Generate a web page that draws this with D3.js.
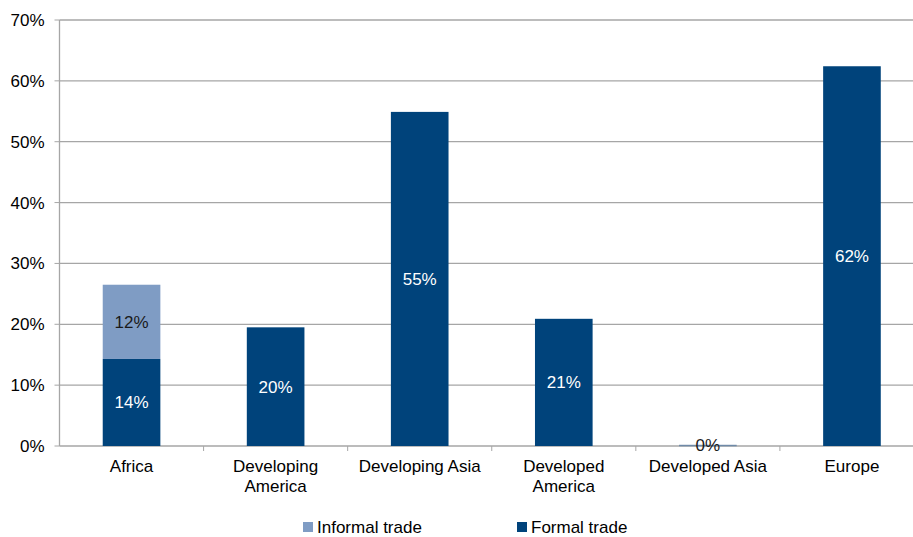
<!DOCTYPE html>
<meta charset="utf-8">
<script src="https://d3js.org/d3.v7.min.js"></script>
<style>
  body { margin: 0; background: #fff; }
  svg text { font-family: "Liberation Sans", Arial, sans-serif; font-size: 17px; }
</style>
<div id="chart"></div>
<script>

// data
var categories = ["Africa", "Developing\nAmerica", "Developing Asia", "Developed\nAmerica", "Developed Asia", "Europe"];
var formal   = [14.3, 19.5, 54.9, 20.9, 0.2, 62.4];
var informal = [12.2, 0, 0, 0, 0, 0];
var yTicks = [0, 10, 20, 30, 40, 50, 60, 70];
var seriesNames = ["Informal trade", "Formal trade"];

var colFormal = "#00437b", colInformal = "#7f9cc4";

var W = 913, H = 537;
var margin = {top: 20, right: -11, bottom: 91, left: 59.5};
var width = W - margin.left - margin.right,
    height = H - margin.top - margin.bottom;

var svg = d3.select("#chart").append("svg")
    .attr("width", W).attr("height", H);
var g = svg.append("g")
    .attr("transform", "translate(" + margin.left + "," + margin.top + ")");

var x = d3.scaleBand().domain(categories).range([0, width]).paddingInner(0.6).paddingOuter(0.3);
var xb = d3.scaleBand().domain(categories).range([0, width]);
var y = d3.scaleLinear().domain([0, 70]).range([height, 0]);

// gridlines
g.selectAll(".grid").data(yTicks).enter().append("line")
  .attr("x1", 0).attr("x2", width)
  .attr("y1", function(d) { return y(d); }).attr("y2", function(d) { return y(d); })
  .attr("stroke", "#a6a6a6").attr("stroke-width", 1.3);

// y axis
g.append("line").attr("x1", 0).attr("x2", 0).attr("y1", 0).attr("y2", height)
  .attr("stroke", "#a6a6a6").attr("stroke-width", 1.3);
g.selectAll(".ytick").data(yTicks).enter().append("line")
  .attr("x1", -5).attr("x2", 0)
  .attr("y1", function(d) { return y(d); }).attr("y2", function(d) { return y(d); })
  .attr("stroke", "#a6a6a6");
g.selectAll(".ylab").data(yTicks).enter().append("text")
  .attr("x", -15).attr("y", function(d) { return y(d); }).attr("dy", "0.35em")
  .attr("text-anchor", "end").attr("fill", "#000")
  .text(function(d) { return d + "%"; });

// x ticks at band boundaries
g.selectAll(".xtick").data(categories.slice(1)).enter().append("line")
  .attr("x1", function(d) { return xb(d); }).attr("x2", function(d) { return xb(d); })
  .attr("y1", height).attr("y2", height + 5)
  .attr("stroke", "#a6a6a6");

// bars
var rows = categories.map(function(c, i) { return {cat: c, formal: formal[i], informal: informal[i]}; });

g.selectAll(".formal").data(rows).enter().append("rect")
  .attr("x", function(d) { return x(d.cat); }).attr("width", x.bandwidth())
  .attr("y", function(d) { return y(d.formal); })
  .attr("height", function(d) { return Math.max(1.5, y(0) - y(d.formal)); })
  .attr("fill", function(d) { return d.formal < 1 ? "#6f8aa8" : colFormal; });

g.selectAll(".informal").data(rows.filter(function(d) { return d.informal > 0; })).enter().append("rect")
  .attr("x", function(d) { return x(d.cat); }).attr("width", x.bandwidth())
  .attr("y", function(d) { return y(d.formal + d.informal); })
  .attr("height", function(d) { return y(d.formal) - y(d.formal + d.informal); })
  .attr("fill", colInformal);

// value labels
g.selectAll(".flab").data(rows).enter().append("text")
  .attr("x", function(d) { return x(d.cat) + x.bandwidth() / 2; })
  .attr("y", function(d) { return y(d.formal / 2); }).attr("dy", "0.35em")
  .attr("text-anchor", "middle")
  .attr("fill", function(d) { return d.formal < 3 ? "#1a1a1a" : "#fff"; })
  .text(function(d) { return Math.round(d.formal) + "%"; });

g.selectAll(".ilab").data(rows.filter(function(d) { return d.informal > 0; })).enter().append("text")
  .attr("x", function(d) { return x(d.cat) + x.bandwidth() / 2; })
  .attr("y", function(d) { return y(d.formal + d.informal / 2); }).attr("dy", "0.35em")
  .attr("text-anchor", "middle").attr("fill", "#1a1a1a")
  .text(function(d) { return Math.round(d.informal) + "%"; });

// category labels
var cl = g.selectAll(".xlab").data(categories).enter().append("text")
  .attr("x", function(d) { return xb(d) + xb.bandwidth() / 2; })
  .attr("y", height + 26)
  .attr("text-anchor", "middle").attr("fill", "#000");
cl.each(function(d) {
  var t = d3.select(this);
  d.split("\n").forEach(function(line, i) {
    t.append("tspan").attr("x", xb(d) + xb.bandwidth() / 2).attr("dy", i ? 20 : 0).text(line);
  });
});

// legend
var legX = [303, 517];
var leg = svg.selectAll(".legend").data(seriesNames).enter().append("g")
  .attr("transform", function(d, i) { return "translate(" + legX[i] + ",522)"; });
leg.append("rect").attr("width", 10).attr("height", 10)
  .attr("fill", function(d, i) { return i ? colFormal : colInformal; });
leg.append("text").attr("x", 14).attr("y", 11).attr("fill", "#000")
  .text(function(d) { return d; });

</script>
